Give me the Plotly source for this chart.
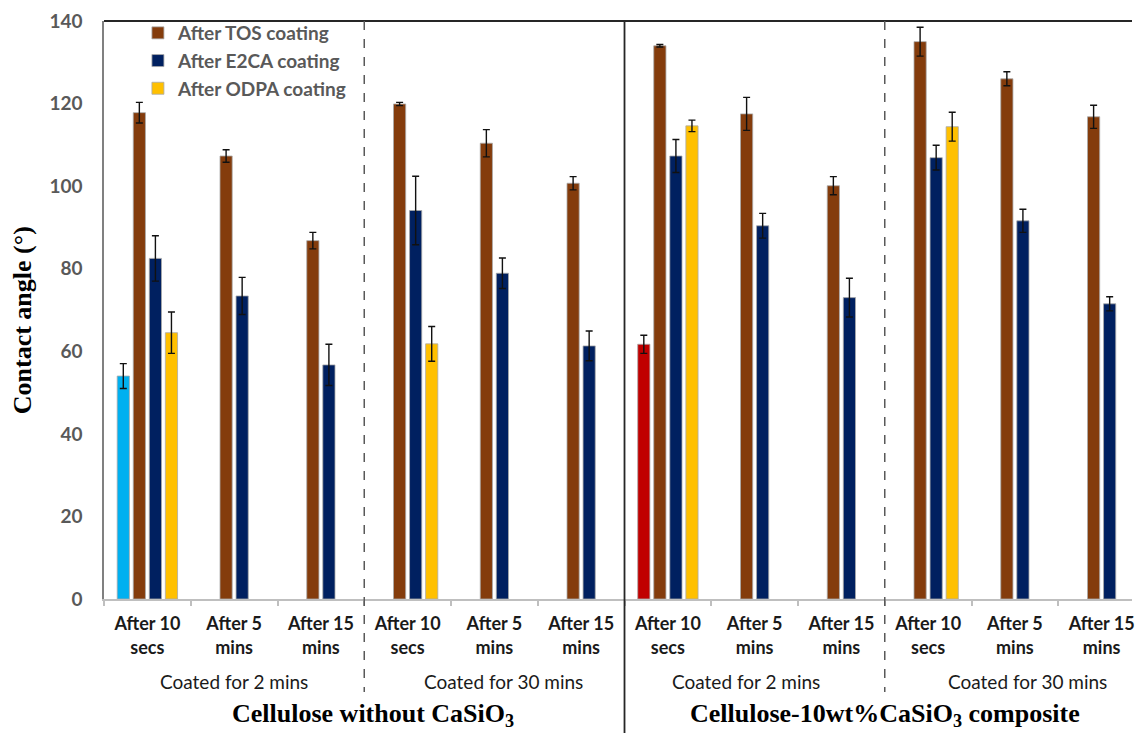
import plotly.graph_objects as go

# Sample/time groups along the x axis
time_labels = ["After 10<br>secs", "After 5<br>mins", "After 15<br>mins"] * 4
coating_periods = ["Coated for 2 mins", "Coated for 30 mins",
                   "Coated for 2 mins", "Coated for 30 mins"]
materials = ["Cellulose without CaSiO<sub>3</sub>",
             "Cellulose-10wt%CaSiO<sub>3</sub> composite"]

# Uncoated reference measurements (only at the first group of each material)
uncoated = [54.0, None, None, None, None, None, 61.7, None, None, None, None, None]
uncoated_err = [3.0, 0, 0, 0, 0, 0, 2.2, 0, 0, 0, 0, 0]
uncoated_colors = ["#00B0F0"] * 6 + ["#C00000"] * 6

tos = [117.8, 107.3, 86.8, 119.9, 110.4, 100.7, 134.0, 117.5, 100.1, 135.0, 126.0, 116.8]
tos_err = [2.5, 1.5, 2.0, 0.4, 3.3, 1.6, 0.3, 4.0, 2.2, 3.5, 1.7, 2.8]

e2ca = [82.5, 73.4, 56.7, 94.1, 78.9, 61.3, 107.3, 90.4, 73.0, 106.9, 91.6, 71.5]
e2ca_err = [5.5, 4.5, 5.0, 8.3, 3.7, 3.6, 4.0, 3.0, 4.7, 3.0, 2.8, 1.7]

odpa = [64.5, None, None, 61.8, None, None, 114.6, None, None, 114.4, None, None]
odpa_err = [5.0, 0, 0, 4.2, 0, 0, 1.4, 0, 0, 3.5, 0, 0]

x = list(range(len(time_labels)))

outline = dict(color="rgba(170,170,170,0.8)", width=1)


def err(values):
    return dict(type="data", array=values, visible=True, color="#111111",
                thickness=1.4, width=3.5)


fig = go.Figure()
fig.add_trace(go.Bar(x=x, y=uncoated, name="Uncoated", showlegend=False,
                     marker=dict(color=uncoated_colors, line=outline),
                     error_y=err(uncoated_err)))
fig.add_trace(go.Bar(x=x, y=tos, name="After TOS coating",
                     marker=dict(color="#843C0C", line=outline),
                     error_y=err(tos_err)))
fig.add_trace(go.Bar(x=x, y=e2ca, name="After E2CA coating",
                     marker=dict(color="#002060", line=outline),
                     error_y=err(e2ca_err)))
fig.add_trace(go.Bar(x=x, y=odpa, name="After ODPA coating",
                     marker=dict(color="#FFC000", line=outline),
                     error_y=err(odpa_err)))

LEFT, TOP, BOTTOM = 104, 21, 134
W, H = 1135, 733
plot_h = H - TOP - BOTTOM


def py(pixel_y):
    """Convert a page pixel row into paper coordinates."""
    return (H - BOTTOM - pixel_y) / plot_h


fig.update_layout(
    width=W, height=H,
    margin=dict(l=LEFT, r=0, t=TOP, b=BOTTOM),
    plot_bgcolor="white", paper_bgcolor="white",
    barmode="group", bargap=0.26, bargroupgap=0.24,
    showlegend=True,
    legend=dict(x=0.033, y=py(14), xanchor="left", yanchor="top",
                bgcolor="rgba(0,0,0,0)",
                font=dict(family="Lato", size=19, color="#595959", weight="bold"),
                itemwidth=30, tracegroupgap=0),
    xaxis=dict(range=[-0.5, 11.35], tickmode="array", tickvals=x,
               ticktext=time_labels, ticks="", showgrid=False,
               ticklabeloverflow="allow", ticklabelstandoff=8,
               showline=True, linecolor="#BFBFBF", linewidth=1.5,
               tickfont=dict(family="Lato", size=18, color="#1a1a1a", weight="bold"),
               minor=dict(tickmode="array", tickvals=[i - 0.5 for i in range(13)],
                          ticks="outside", ticklen=5, tickcolor="#BFBFBF",
                          tickwidth=1.5, showgrid=False),
               zeroline=False),
    yaxis=dict(range=[0, 140], dtick=20, showgrid=False, zeroline=False,
               showline=True, linecolor="#808080", linewidth=1.5, ticks="",
               ticklabelstandoff=16,
               tickfont=dict(family="Lato", size=19, color="#595959", weight="bold")),
)

# Frame: top border, group separators
shapes = [
    dict(type="line", xref="paper", yref="paper", x0=0, x1=1, y0=1, y1=1,
         line=dict(color="#262626", width=1.8)),
    dict(type="line", xref="x", yref="paper", x0=5.5, x1=5.5, y0=1, y1=py(733),
         line=dict(color="#262626", width=1.8)),
]
for xb in (2.5, 8.5):
    shapes.append(dict(type="line", xref="x", yref="paper", x0=xb, x1=xb,
                       y0=1, y1=py(692),
                       line=dict(color="#595959", width=1.5, dash="dash")))
fig.update_layout(shapes=shapes)

annotations = [
    dict(text="<b>Contact angle (°)</b>", textangle=-90, xref="paper", yref="paper",
         x=(22 - LEFT) / (W - LEFT), y=py(320), xanchor="center", yanchor="middle",
         showarrow=False,
         font=dict(family="Liberation Serif", size=26, color="black")),
]
for xc, label in zip([1, 4.1, 6.9, 10.15], coating_periods):
    annotations.append(dict(text=label, xref="x", yref="paper", x=xc, y=py(681),
                            xanchor="center", yanchor="middle", showarrow=False,
                            font=dict(family="Lato", size=19, color="#1a1a1a")))
for xc, label in zip([2.6, 8.5], materials):
    annotations.append(dict(text="<b>" + label + "</b>", xref="x", yref="paper",
                            x=xc, y=py(715), xanchor="center", yanchor="middle",
                            showarrow=False,
                            font=dict(family="Liberation Serif", size=26, color="black")))
fig.update_layout(annotations=annotations)

fig.write_html("out.html")
